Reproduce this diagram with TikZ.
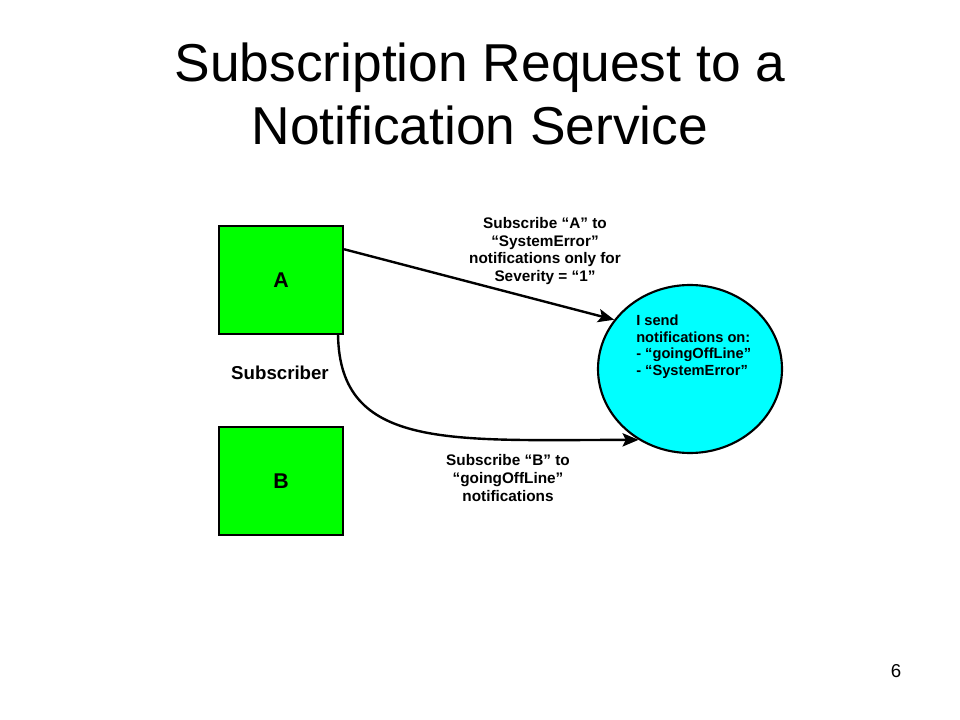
\documentclass[tikz,border=0pt]{standalone}
\usepackage{fontspec}
\setmainfont{Liberation Sans}
\usetikzlibrary{positioning}
\usetikzlibrary{arrows.meta}
\usetikzlibrary{shapes}
\definecolor{boxgreen}{RGB}{0,255,0}
\definecolor{svccyan}{RGB}{0,255,255}

\begin{document}
\begin{tikzpicture}[x=0.75pt,y=-0.75pt]
	\tikzstyle{box} = [draw,line width=1.6pt,fill=boxgreen,minimum width=93pt,minimum height=81pt,font=\fontsize{16}{18}\bfseries\selectfont]
	\tikzstyle{service} = [draw,line width=1.6pt,ellipse,fill=svccyan,minimum width=138pt,minimum height=126pt]
	\tikzstyle{msg} = [align=center,inner sep=0pt,font=\fontsize{11.5}{13.3}\bfseries\selectfont]
	\tikzstyle{request} = [line width=1.8pt,-{Stealth[length=12pt,width=10pt,inset=2.5pt]}]

	\useasboundingbox (0,0) rectangle (960,720);

	\node[align=center,font=\fontsize{40}{47}\selectfont] at (480,94) (title) {Subscription Request to a\\Notification Service};

	\node[box] at (281,280) (a) {A};
	\node[box] at (281,481) (b) {B};
	\node[font=\fontsize{14}{16}\bfseries\selectfont] at (280,373) (subscriber) {Subscriber};

	\node[service] at (690,369) (svc) {};
	\node[align=left,anchor=north west,inner sep=0pt,font=\fontsize{11}{12.4}\bfseries\selectfont] at (636,315) (svctext) {I send\\notifications on:\\- “goingOffLine”\\- “SystemError”};

	\node[msg] at (545,251) (msga) {Subscribe “A” to\\“SystemError”\\notifications only for\\Severity = “1”};
	\node[msg] at (508,478) (msgb) {Subscribe “B” to\\“goingOffLine”\\notifications};

	\draw[request] (a.26) -- (svc.147);
	\draw[request] (a.-44) .. controls (340,450) and (450,440) .. (svc.234);

	\node[font=\fontsize{14}{16}\selectfont] at (896,671) (page) {6};
\end{tikzpicture}
\end{document}
